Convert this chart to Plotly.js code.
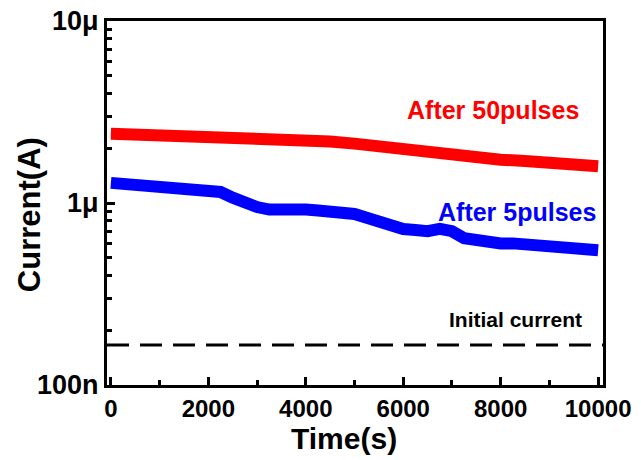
<!DOCTYPE html>
<html>
<head>
<meta charset="utf-8">
<script src="https://cdn.plot.ly/plotly-3.0.1.min.js"></script>
<style>html,body{margin:0;padding:0;background:#fff}#chart{width:641px;height:460px}</style>
</head>
<body>
<div id="chart"></div>
<script>
// Time (s) and current (A)
const timeRed = [0, 500, 1000, 1500, 2000, 2500, 3000, 3500, 4000, 4500, 5000, 5500, 6000, 6500, 7000, 7500, 8000, 8500, 9000, 9500, 10000];
const current50 = [2.40e-6, 2.38e-6, 2.35e-6, 2.33e-6, 2.31e-6, 2.27e-6, 2.24e-6, 2.23e-6, 2.20e-6, 2.18e-6, 2.12e-6, 2.04e-6, 1.97e-6, 1.90e-6, 1.85e-6, 1.77e-6, 1.73e-6, 1.70e-6, 1.65e-6, 1.58e-6, 1.59e-6];

const timeBlue = [0, 250, 500, 750, 1000, 1250, 1500, 1750, 2000, 2250, 2500, 2750, 3000, 3250, 3500, 3750, 4000, 4250, 4500, 4750, 5000, 5250, 5500, 5750, 6000, 6250, 6500, 6750, 7000, 7250, 7500, 7750, 8000, 8250, 8500, 8750, 9000, 9250, 9500, 9750, 10000];
const current5 = [1.29e-6, 1.27e-6, 1.25e-6, 1.22e-6, 1.20e-6, 1.19e-6, 1.18e-6, 1.18e-6, 1.17e-6, 1.15e-6, 1.07e-6, 1.00e-6, 0.95e-6, 0.92e-6, 0.93e-6, 0.93e-6, 0.92e-6, 0.91e-6, 0.90e-6, 0.89e-6, 0.87e-6, 0.83e-6, 0.79e-6, 0.75e-6, 0.72e-6, 0.71e-6, 0.70e-6, 0.72e-6, 0.70e-6, 0.64e-6, 0.62e-6, 0.61e-6, 0.60e-6, 0.60e-6, 0.595e-6, 0.59e-6, 0.585e-6, 0.575e-6, 0.565e-6, 0.555e-6, 0.55e-6];

const initialCurrent = 1.66e-7;
const xRange = [-80, 10100];

const yTickVals = [1e-7, 1e-6, 1e-5];
const yTickText = ['100n', '1μ', '10μ'];
const xTickVals = [0, 2000, 4000, 6000, 8000, 10000];
const xTickText = ['0', '2000', '4000', '6000', '8000', '10000'];
const yMinorVals = [];
[1e-7, 1e-6].forEach(d => { for (let k = 2; k <= 9; k++) yMinorVals.push(d * k); });

const labels = ['After 50pulses', 'After 5pulses', 'Initial current'];
const xTitle = 'Time(s)';
const yTitle = 'Current(A)';

const FONT = 'Liberation Sans, Arial, sans-serif';

const traces = [
  {x: xRange, y: [initialCurrent, initialCurrent], mode: 'lines',
   line: {color: '#000', width: 3, dash: '22px,11px'}, hoverinfo: 'skip'},
  {x: timeRed, y: current50, mode: 'lines', line: {color: '#FF0000', width: 12}},
  {x: timeBlue, y: current5, mode: 'lines', line: {color: '#0000FF', width: 12}}
];

const layout = {
  width: 641, height: 460,
  margin: {l: 107, r: 38, t: 21, b: 75},
  paper_bgcolor: '#fff', plot_bgcolor: '#fff',
  showlegend: false,
  font: {family: FONT, color: '#000'},
  xaxis: {
    range: xRange, showgrid: false, zeroline: false,
    showline: true, linecolor: '#000', linewidth: 3, mirror: true,
    ticks: 'inside', ticklen: 8, tickwidth: 3, tickcolor: '#000',
    tickvals: xTickVals, ticktext: xTickText,
    tickfont: {family: FONT, size: 24, color: '#000', weight: 'bold'},
    minor: {dtick: 1000, ticks: 'inside', ticklen: 5, tickwidth: 3, tickcolor: '#000', showgrid: false}
  },
  yaxis: {
    type: 'log', range: [-7, -5], showgrid: false, zeroline: false,
    showline: true, linecolor: '#000', linewidth: 3, mirror: true,
    ticks: 'inside', ticklen: 8, tickwidth: 3, tickcolor: '#000',
    tickvals: yTickVals, ticktext: yTickText,
    tickfont: {family: FONT, size: 27, color: '#000', weight: 'bold'},
    minor: {tickvals: yMinorVals, ticks: 'inside', ticklen: 5, tickwidth: 3, tickcolor: '#000', showgrid: false}
  },
  annotations: [
    {xref: 'paper', yref: 'paper', x: 0.778, y: 0.755, xanchor: 'center', yanchor: 'middle',
     text: '<b>' + labels[0] + '</b>', showarrow: false,
     font: {family: FONT, size: 25, color: '#FF0000'}},
    {xref: 'paper', yref: 'paper', x: 0.826, y: 0.475, xanchor: 'center', yanchor: 'middle',
     text: '<b>' + labels[1] + '</b>', showarrow: false,
     font: {family: FONT, size: 25, color: '#0000FF'}},
    {xref: 'paper', yref: 'paper', x: 0.823, y: 0.179, xanchor: 'center', yanchor: 'middle',
     text: '<b>' + labels[2] + '</b>', showarrow: false,
     font: {family: FONT, size: 21, color: '#000'}},
    {xref: 'paper', yref: 'paper', x: 0.477, y: -0.146, xanchor: 'center', yanchor: 'middle',
     text: '<b>' + xTitle + '</b>', showarrow: false,
     font: {family: FONT, size: 30, color: '#000'}},
    {xref: 'paper', yref: 'paper', x: -0.157, y: 0.467, xanchor: 'center', yanchor: 'middle',
     text: '<b>' + yTitle + '</b>', showarrow: false, textangle: -90,
     font: {family: FONT, size: 31, color: '#000'}}
  ]
};

Plotly.newPlot('chart', traces, layout, {displayModeBar: false, staticPlot: true});
</script>
</body>
</html>
